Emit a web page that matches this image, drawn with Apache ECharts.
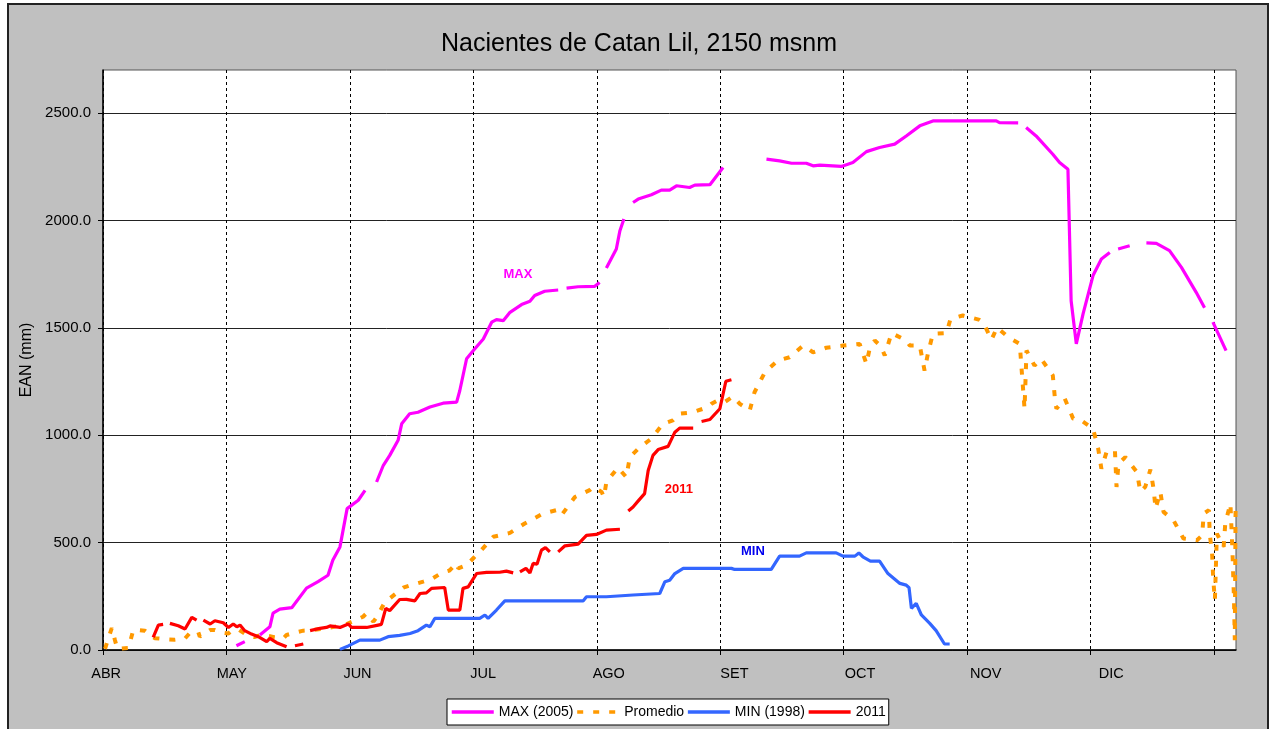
<!DOCTYPE html>
<html>
<head>
<meta charset="utf-8">
<title>Nacientes de Catan Lil, 2150 msnm</title>
<script src="https://cdn.jsdelivr.net/npm/echarts@6.0.0/dist/echarts.min.js"></script>
<style>
html, body { margin: 0; padding: 0; background: #fff; overflow: hidden; }
#frame { position: absolute; left: 7px; top: 3px; width: 1258px; height: 740px; background: #c0c0c0; border: 2px solid #222; }
#chart { position: absolute; left: 0; top: 0; width: 1270px; height: 729px; }
</style>
</head>
<body>
<div id="frame"></div>
<div id="chart"></div>
<script>
// x = day counted from 1 April, each month drawn as an equal 31-day band
const MONTHS = ['ABR', 'MAY', 'JUN', 'JUL', 'AGO', 'SET', 'OCT', 'NOV', 'DIC'];
const MONTH_DAYS = 31;
const Y_TICKS = [0, 500, 1000, 1500, 2000, 2500];

// null = gap in the record
const maxData = [
  [33.5, 20], [35.6, 39], null, [39.4, 70], [41.9, 108], [42.7, 172], [44.4, 190], [47.4, 197],
  [51.1, 288], [54, 318], [56.5, 348], [57.7, 418], [59.5, 480], [61.3, 658], [64.1, 697], [65.8, 743], null,
  [68.7, 782], [70.4, 860], [72, 906], [74.1, 976], [75, 1053], [77, 1100], [79.1, 1107], [82.1, 1131],
  [85.4, 1149], [88.8, 1154], [89.6, 1208], [91.3, 1356], [93, 1394], [95.5, 1448], [97.6, 1526],
  [98.8, 1538], [100.5, 1533], [102.2, 1572], [105.1, 1608], [107.2, 1623], [108.4, 1650], [110.9, 1670],
  [114.3, 1676], null, [116.4, 1685], [119.3, 1691], [123.5, 1693], [124.7, 1711], null,
  [126.4, 1778], [128.9, 1867], [129.8, 1952], [130.8, 2006], null,
  [133.1, 2083], [134.4, 2099], [137.7, 2119], [140.2, 2141], [142.3, 2141], [144, 2161], [147.3, 2153],
  [148.6, 2164], [152.4, 2166], [155.7, 2246], null,
  [166.6, 2285], [169.9, 2277], [172.9, 2266], [176.6, 2266], [178.3, 2254], [180, 2257], [185.4, 2251],
  [188.3, 2269], [191.7, 2320], [195, 2339], [198.8, 2355], [201.7, 2393], [205.1, 2440], [208.4, 2463],
  [224.3, 2463], [225.1, 2455], [229.8, 2454], null,
  [231.8, 2432], [234.3, 2393], [238.5, 2308], [240.2, 2269], [242.3, 2238], [243.1, 1626], [244.4, 1425],
  [246.1, 1565], [248.6, 1743], [250.7, 1820], [252.8, 1851], null, [254.9, 1867], [257.8, 1882], null,
  [262, 1895], [264.5, 1893], [267.8, 1859], [270.8, 1781], [274.5, 1665], [276.6, 1593], null,
  [278.7, 1526], [282, 1394]
];

const promedioData = [
  [0.5, 5], [2.2, 102], [3, 46], [3.6, 5], [6.4, 9], [7.6, 93], [8.9, 93], [10.5, 90], [13, 55], [16, 50],
  [18, 48], [20.6, 54], [21.8, 79], [23.9, 85], [24.3, 62], [26.9, 93], [28.1, 93], [29.5, 82], [31.5, 77],
  [32.3, 90], [34, 95], [36.1, 70], [38, 60], [40.2, 73], [41.1, 67], [43, 60], [45.3, 54], [46.1, 70],
  [48, 80], [50.3, 90], [52.8, 93], [56.1, 101], [58.5, 110], [61.2, 121], [63, 135], [65.3, 155],
  [66.2, 171], [67.9, 132], [68.8, 155], [70.8, 224], [72, 240], [75.4, 290], [77, 300], [80.4, 318],
  [82.5, 330], [85, 359], [87, 370], [88.8, 403], [89.2, 380], [91.3, 395], [95, 465], [98, 527],
  [102.2, 545], [105.9, 589], [110.5, 635], [113.9, 651], [115.1, 627], [118.5, 712], [122.2, 744],
  [123.1, 759], [125.2, 736], [125.8, 712], [126.4, 782], [129.3, 849], [131.4, 805], [132.3, 898],
  [134.4, 937], [137.7, 984], [140.6, 1053], [143.1, 1069], [144.8, 1100], [148.2, 1107], [151.9, 1131],
  [152.8, 1146], [154.4, 1162], [156.1, 1154], [158.2, 1180], [159.9, 1146], [162.4, 1115], [163.6, 1200],
  [166.2, 1293], [169.5, 1348], [172.4, 1363], [175.8, 1417], [178.3, 1386], [181.6, 1407], [185.8, 1417],
  [190, 1425], [191.7, 1332], [192.5, 1402], [193.8, 1441], [195.4, 1413], [196.3, 1371], [198, 1475],
  [201.7, 1441], [202.6, 1417], [205.1, 1417], [206.3, 1301], [207.2, 1386], [208.4, 1472], [211.8, 1475],
  [212.8, 1541], [215.9, 1557], [220.1, 1537], [221, 1526], [223.1, 1444], [224.5, 1502], [227.3, 1456],
  [230.2, 1425], [230.6, 1324], [231, 1224], [231.4, 1123], [231.9, 1394], [233.9, 1324], [235.6, 1355],
  [238.5, 1278], [239, 1177], [239.4, 1123], [241.5, 1170], [243.6, 1077], [245.6, 1069], [248.6, 1030],
  [249.9, 937], [250.7, 844], [252, 922], [254.1, 929], [254.5, 759], [255, 867], [256.7, 898],
  [259.6, 829], [260.5, 736], [261.7, 759], [263, 840], [263.8, 751], [264.3, 658], [265.5, 736],
  [266.3, 643], [268.8, 604], [271.3, 519], [274.7, 511], [276, 534], [276.4, 635], [277.7, 651],
  [277.9, 542], [278.5, 449], [278.8, 325], [279.2, 232], [279.7, 542], [281.4, 480], [281.8, 589],
  [283.1, 682], [283.6, 465], [284, 232], [284.2, 46], [284.4, 666]
];

const minData = [
  [59.5, 3], [61.6, 19], [64.5, 46], [69.5, 46], [71.6, 62], [74.5, 68], [77.1, 77], [79.1, 90],
  [81.2, 116], [82.1, 108], [83.3, 147], [94.6, 147], [95.9, 163], [96.7, 147], [98.8, 186], [100.9, 229],
  [120.6, 229], [121.4, 248], [126.4, 248], [133.1, 256], [139.8, 263], [141.1, 318], [142.3, 325],
  [143.6, 356], [145.7, 380], [157.8, 380], [158.6, 375], [167.8, 375], [169.9, 437], [174.9, 437],
  [176.6, 452], [184.1, 452], [185.8, 437], [188.8, 437], [189.8, 452], [190.8, 434], [192.7, 414],
  [195, 414], [197.1, 356], [200.1, 310], [201.7, 302], [202.4, 290], [203, 194], [204.2, 217],
  [205.5, 163], [207.6, 124], [209.2, 90], [211.3, 28], [212.6, 28]
];

const data2011 = [
  [12.6, 59], [13.9, 116], [15.1, 119], null, [16.8, 124], [18.9, 113], [20.6, 98], [22.3, 152], [23.5, 139], null,
  [25.2, 139], [26.9, 121], [28.1, 136], [30.2, 127], [31.5, 105], [32.7, 121], [33.6, 108], [34.4, 116],
  [35.6, 90], [37.3, 74], [39, 62], [41.1, 39], [41.9, 54], [43.6, 34], [46.1, 15], null, [48.2, 20], [50.3, 28], null,
  [52, 90], [54.5, 101], [56.1, 105], [57, 112], [59.5, 105], [61.6, 121], [62.4, 105], [66.2, 105],
  [69.1, 116], [69.9, 119], [71, 194], [72, 183], [74.5, 235], [76.2, 236], [78.3, 229], [79.6, 263],
  [81.2, 266], [82.5, 287], [85.8, 291], [86.7, 186], [89.6, 186], [90.4, 287], [91.7, 294], [93.8, 356],
  [96.3, 361], [99.6, 362], [101.3, 367], [103, 359], null, [104.7, 364], [106.2, 380], [107.2, 359],
  [108, 403], [109, 400], [110.1, 465], [111.1, 477], [112.2, 457], null, [114.3, 457], [116, 485],
  [119.3, 493], [121.4, 534], [123.9, 538], [126.4, 558], [129.8, 562], null, [131.9, 647], [133.1, 666],
  [134.4, 694], [136, 728], [136.9, 836], [138.1, 906], [139.4, 933], [141.9, 948], [143.6, 1014],
  [144.8, 1033], [148.2, 1033], null, [150.3, 1064], [152.4, 1073], [154.9, 1123], [156.4, 1251], [157.8, 1258]
];

// turn null markers into breaks in the line
function withGaps(points) {
  const out = [];
  for (let i = 0; i < points.length; i++) {
    if (points[i] === null) out.push([points[i - 1][0] + 0.1, null]);
    else out.push(points[i]);
  }
  return out;
}

const FONT = 'Liberation Sans, Arial, sans-serif';

function tag(text, color, coord) {
  return {
    symbol: 'rect',
    symbolSize: 0,
    label: { show: true, position: 'inside', formatter: text, color: color, fontWeight: 'bold', fontSize: 13, fontFamily: FONT },
    data: [{ coord: coord }]
  };
}

let chart = echarts.init(document.getElementById('chart'));
chart.setOption({
  animation: false,
  backgroundColor: 'transparent',
  title: {
    text: 'Nacientes de Catan Lil, 2150 msnm',
    left: 634,
    textAlign: 'center',
    top: 27,
    textStyle: { fontFamily: FONT, fontSize: 25, fontWeight: 'normal', color: '#000' }
  },
  legend: {
    left: 447,
    top: 699,
    itemGap: 2,
    itemWidth: 42,
    itemHeight: 12,
    padding: [6, 3],
    backgroundColor: '#fff',
    borderColor: '#000',
    borderWidth: 1,
    borderRadius: 0,
    itemStyle: { opacity: 0 },
    lineStyle: { width: 3.5 },
    textStyle: { fontFamily: FONT, fontSize: 14, color: '#000' },
    data: ['MAX (2005)', 'Promedio', 'MIN (1998)', '2011']
  },
  grid: {
    left: 103,
    right: 34,
    top: 70,
    bottom: 79,
    show: true,
    backgroundColor: '#fff',
    borderColor: '#555',
    borderWidth: 1
  },
  xAxis: {
    type: 'value',
    min: 0,
    max: 284.5,
    interval: MONTH_DAYS,
    axisLine: { onZero: false, lineStyle: { color: '#000', width: 1.5 } },
    axisTick: {
      show: true,
      length: 5,
      customValues: MONTHS.concat(['']).map(function (m, i) { return i * MONTH_DAYS; }),
      lineStyle: { color: '#000' }
    },
    axisLabel: {
      customValues: MONTHS.map(function (m, i) { return i * MONTH_DAYS + 0.8 + 0.55 * i; }),
      formatter: function (v) { return MONTHS[Math.round(v / (MONTH_DAYS + 0.55))] || ''; },
      margin: 16,
      fontFamily: FONT,
      fontSize: 14.5,
      color: '#000'
    },
    splitLine: { show: true, lineStyle: { color: '#000', width: 1, type: [3, 3] } }
  },
  yAxis: {
    type: 'value',
    min: 0,
    max: 2700,
    interval: 500,
    name: 'EAN (mm)',
    nameLocation: 'middle',
    nameGap: 58,
    nameRotate: 90,
    nameTextStyle: { fontFamily: FONT, fontSize: 16, color: '#000' },
    axisLine: { show: true, lineStyle: { color: '#000', width: 1.5 } },
    axisTick: { show: true, length: 5, customValues: Y_TICKS, lineStyle: { color: '#000' } },
    axisLabel: {
      margin: 12,
      fontFamily: FONT,
      fontSize: 15,
      color: '#000',
      customValues: Y_TICKS,
      formatter: function (v) { return v.toFixed(1); }
    },
    splitLine: { show: true, lineStyle: { color: '#222', width: 1 } }
  },
  series: [
    {
      name: 'MAX (2005)',
      type: 'line',
      showSymbol: false,
      symbol: 'none',
      itemStyle: { color: '#ff00ff' },
      lineStyle: { color: '#ff00ff', width: 3.2 },
      data: withGaps(maxData),
      markPoint: tag('MAX', '#ff00ff', [104.2, 1747])
    },
    {
      name: 'Promedio',
      type: 'line',
      showSymbol: false,
      symbol: 'none',
      itemStyle: { color: '#ff9900' },
      lineStyle: { color: '#ff9900', width: 4, type: [6, 10] },
      data: promedioData
    },
    {
      name: 'MIN (1998)',
      type: 'line',
      showSymbol: false,
      symbol: 'none',
      itemStyle: { color: '#3366ff' },
      lineStyle: { color: '#3366ff', width: 3.2 },
      data: minData,
      markPoint: tag('MIN', '#0000ee', [163.2, 460])
    },
    {
      name: '2011',
      type: 'line',
      showSymbol: false,
      symbol: 'none',
      itemStyle: { color: '#ff0000' },
      lineStyle: { color: '#ff0000', width: 3.2 },
      data: withGaps(data2011),
      markPoint: tag('2011', '#ff0000', [144.6, 748])
    }
  ]
});

window.addEventListener('resize', function () {
  chart.resize();
});
</script>
</body>
</html>
